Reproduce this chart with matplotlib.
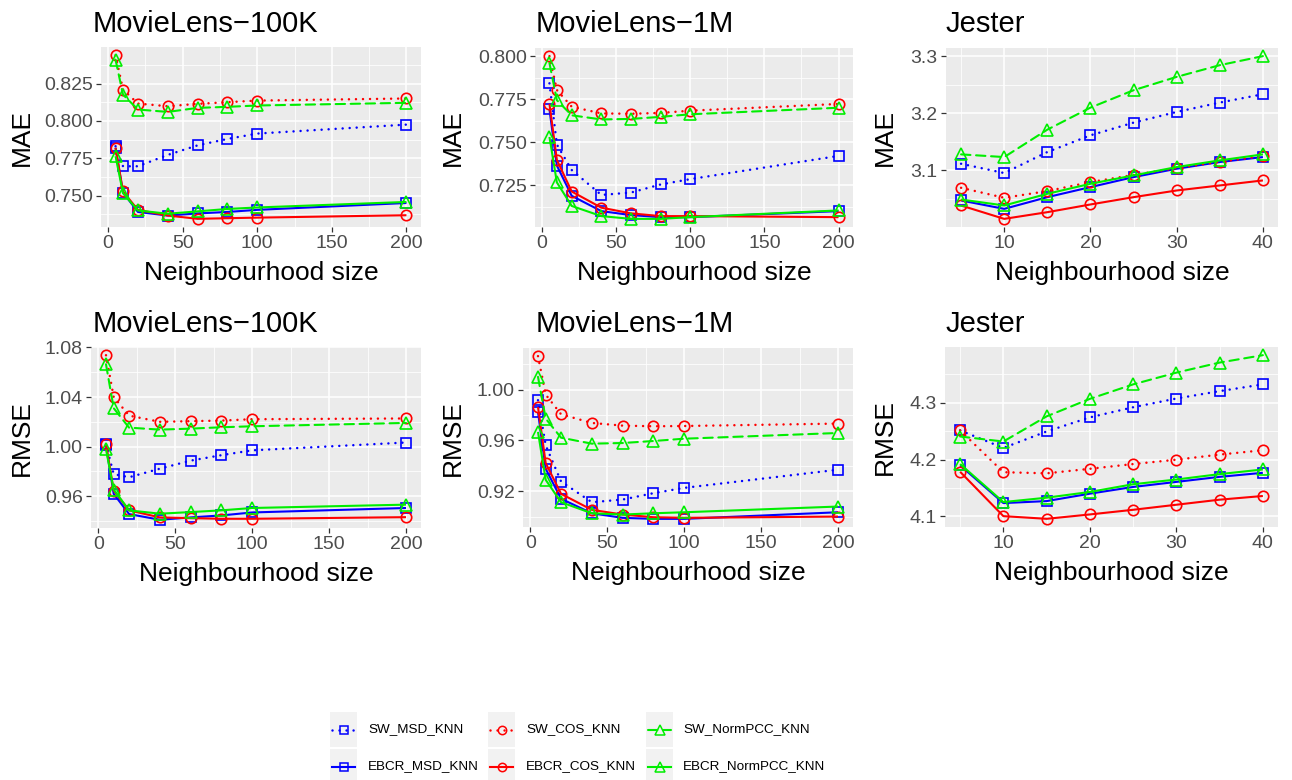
import matplotlib
matplotlib.use("Agg")
import matplotlib.pyplot as plt
from matplotlib.ticker import MultipleLocator, AutoMinorLocator, FormatStrFormatter
from matplotlib.lines import Line2D
from matplotlib.patches import Rectangle

plt.rcParams['font.family'] = ['Liberation Sans', 'DejaVu Sans']

# ---------------- data ----------------
x_ml = [5, 10, 20, 40, 60, 80, 100, 200]
x_jester = [5, 10, 15, 20, 25, 30, 35, 40]

series_names = ["SW_MSD_KNN", "EBCR_MSD_KNN", "SW_COS_KNN",
                "EBCR_COS_KNN", "SW_NormPCC_KNN", "EBCR_NormPCC_KNN"]

# MovieLens-100K MAE
ml100k_mae_sw_msd = [0.783, 0.7696, 0.7696, 0.7772, 0.7836, 0.7879, 0.7915, 0.7975]
ml100k_mae_ebcr_msd = [0.782, 0.752, 0.739, 0.7366, 0.738, 0.739, 0.7404, 0.745]
ml100k_mae_sw_cos = [0.844, 0.821, 0.8116, 0.8098, 0.8114, 0.8125, 0.8136, 0.815]
ml100k_mae_ebcr_cos = [0.782, 0.7527, 0.7404, 0.7366, 0.7344, 0.7348, 0.7352, 0.7368]
ml100k_mae_sw_npcc = [0.841, 0.8176, 0.8076, 0.806, 0.8087, 0.8094, 0.8103, 0.8121]
ml100k_mae_ebcr_npcc = [0.7763, 0.7516, 0.740, 0.7378, 0.7394, 0.741, 0.742, 0.7457]

# MovieLens-1M MAE
ml1m_mae_sw_msd = [0.7842, 0.7486, 0.7338, 0.7193, 0.7207, 0.7254, 0.7285, 0.7420]
ml1m_mae_ebcr_msd = [0.7691, 0.7364, 0.7188, 0.7099, 0.7076, 0.7064, 0.7064, 0.7099]
ml1m_mae_sw_cos = [0.800, 0.7803, 0.7706, 0.7667, 0.7665, 0.7670, 0.7683, 0.7722]
ml1m_mae_ebcr_cos = [0.7723, 0.7397, 0.7213, 0.7119, 0.7086, 0.7070, 0.7070, 0.7064]
ml1m_mae_sw_npcc = [0.796, 0.7744, 0.7656, 0.7632, 0.7635, 0.7647, 0.7662, 0.7700]
ml1m_mae_ebcr_npcc = [0.753, 0.7266, 0.7129, 0.707, 0.7054, 0.7054, 0.7064, 0.7103]

# Jester MAE
jester_mae_sw_msd = [3.1116, 3.0953, 3.1321, 3.1614, 3.1836, 3.2023, 3.2187, 3.2333]
jester_mae_ebcr_msd = [3.0473, 3.0326, 3.0531, 3.0707, 3.0882, 3.1029, 3.1146, 3.1233]
jester_mae_sw_cos = [3.0695, 3.052, 3.0637, 3.0795, 3.092, 3.104, 3.115, 3.125]
jester_mae_ebcr_cos = [3.0385, 3.0151, 3.0268, 3.0403, 3.0531, 3.0648, 3.0736, 3.0824]
jester_mae_sw_npcc = [3.128, 3.1233, 3.1713, 3.2099, 3.2403, 3.2637, 3.2842, 3.300]
jester_mae_ebcr_npcc = [3.049, 3.0385, 3.059, 3.0765, 3.0912, 3.1058, 3.1175, 3.128]

# MovieLens-100K RMSE
ml100k_rmse_sw_msd = [1.0019, 0.9778, 0.9753, 0.9822, 0.9887, 0.9931, 0.997, 1.0033]
ml100k_rmse_ebcr_msd = [1.001, 0.9619, 0.9456, 0.941, 0.9429, 0.9445, 0.9469, 0.9505]
ml100k_rmse_sw_cos = [1.0737, 1.04, 1.025, 1.02, 1.0205, 1.021, 1.0221, 1.0227]
ml100k_rmse_ebcr_cos = [1.002, 0.9646, 0.9486, 0.9429, 0.9423, 0.9418, 0.9418, 0.9431]
ml100k_rmse_sw_npcc = [1.0664, 1.031, 1.0153, 1.0137, 1.0145, 1.0156, 1.0164, 1.0191]
ml100k_rmse_ebcr_npcc = [0.9978, 0.9654, 0.9486, 0.9459, 0.9472, 0.9486, 0.9505, 0.9532]

# MovieLens-1M RMSE
ml1m_rmse_sw_msd = [0.9916, 0.9561, 0.9276, 0.9113, 0.9134, 0.9184, 0.9226, 0.9369]
ml1m_rmse_ebcr_msd = [0.9823, 0.9376, 0.914, 0.9026, 0.899, 0.8982, 0.8982, 0.9034]
ml1m_rmse_sw_cos = [1.0263, 0.996, 0.9805, 0.9737, 0.9716, 0.9711, 0.9713, 0.9732]
ml1m_rmse_ebcr_cos = [0.9863, 0.9421, 0.9179, 0.9053, 0.9016, 0.8995, 0.899, 0.900]
ml1m_rmse_sw_npcc = [1.010, 0.9771, 0.9621, 0.9574, 0.9579, 0.9595, 0.9613, 0.9658]
ml1m_rmse_ebcr_npcc = [0.9666, 0.9289, 0.9113, 0.9026, 0.9016, 0.9026, 0.9034, 0.9079]

# Jester RMSE
jester_rmse_sw_msd = [4.2515, 4.2207, 4.2497, 4.2745, 4.2923, 4.3077, 4.3207, 4.3326]
jester_rmse_ebcr_msd = [4.190, 4.1236, 4.1271, 4.1402, 4.152, 4.1609, 4.1698, 4.1769]
jester_rmse_sw_cos = [4.2515, 4.178, 4.176, 4.184, 4.1923, 4.200, 4.209, 4.2166]
jester_rmse_ebcr_cos = [4.1787, 4.1006, 4.0959, 4.1036, 4.1118, 4.1207, 4.1296, 4.1361]
jester_rmse_sw_npcc = [4.2408, 4.232, 4.2763, 4.3071, 4.3326, 4.3533, 4.371, 4.384]
jester_rmse_ebcr_npcc = [4.1923, 4.1254, 4.1331, 4.1432, 4.1568, 4.1651, 4.1746, 4.1828]

titles = ["MovieLens\u2212100K", "MovieLens\u22121M", "Jester",
          "MovieLens\u2212100K", "MovieLens\u22121M", "Jester"]
ylabels = ["MAE", "MAE", "MAE", "RMSE", "RMSE", "RMSE"]
xlabel = "Neighbourhood size"

panels = [
    (x_ml, [ml100k_mae_sw_msd, ml100k_mae_ebcr_msd, ml100k_mae_sw_cos,
            ml100k_mae_ebcr_cos, ml100k_mae_sw_npcc, ml100k_mae_ebcr_npcc]),
    (x_ml, [ml1m_mae_sw_msd, ml1m_mae_ebcr_msd, ml1m_mae_sw_cos,
            ml1m_mae_ebcr_cos, ml1m_mae_sw_npcc, ml1m_mae_ebcr_npcc]),
    (x_jester, [jester_mae_sw_msd, jester_mae_ebcr_msd, jester_mae_sw_cos,
                jester_mae_ebcr_cos, jester_mae_sw_npcc, jester_mae_ebcr_npcc]),
    (x_ml, [ml100k_rmse_sw_msd, ml100k_rmse_ebcr_msd, ml100k_rmse_sw_cos,
            ml100k_rmse_ebcr_cos, ml100k_rmse_sw_npcc, ml100k_rmse_ebcr_npcc]),
    (x_ml, [ml1m_rmse_sw_msd, ml1m_rmse_ebcr_msd, ml1m_rmse_sw_cos,
            ml1m_rmse_ebcr_cos, ml1m_rmse_sw_npcc, ml1m_rmse_ebcr_npcc]),
    (x_jester, [jester_rmse_sw_msd, jester_rmse_ebcr_msd, jester_rmse_sw_cos,
                jester_rmse_ebcr_cos, jester_rmse_sw_npcc, jester_rmse_ebcr_npcc]),
]

# ---------------- styles ----------------
BLUE, RED, GREEN = "#0000FF", "#FF0000", "#00EE00"
DOT = (0, (0.01, 2.8))
DASH = (0, (4.5, 2.7))
styles = [
    dict(color=BLUE, ls=DOT, lw=1.8, marker="s", ms=7),
    dict(color=BLUE, ls="-", lw=1.5, marker="s", ms=7),
    dict(color=RED, ls=DOT, lw=1.8, marker="o", ms=7.5),
    dict(color=RED, ls="-", lw=1.5, marker="o", ms=7.5),
    dict(color=GREEN, ls=DASH, lw=1.5, marker="^", ms=8.5),
    dict(color=GREEN, ls="-", lw=1.5, marker="^", ms=8.5),
]

y_major = [0.025, 0.025, 0.1, 0.04, 0.04, 0.1]
y_fmt = ["%.3f", "%.3f", "%.1f", "%.2f", "%.2f", "%.1f"]
x_major = [50, 50, 10, 50, 50, 10]

W, H = 1292, 780
# panel boxes in pixels: left, right, top, bottom
boxes = [(101, 421, 47, 227), (535, 853, 48, 227), (946, 1278, 48, 227),
         (91, 421, 347, 528), (523, 853, 348, 527), (945, 1278, 347, 527)]
title_pos = [(93, 32), (536, 32), (946, 32), (93, 332), (536, 332), (946, 332)]
ylabel_x = [34, 465, 897, 34, 465, 897]

fig = plt.figure(figsize=(W / 100, H / 100), dpi=100)
fig.patch.set_facecolor("white")

for i, (xs, ys_list) in enumerate(panels):
    l, r, t, b = boxes[i]
    ax = fig.add_axes([l / W, 1 - b / H, (r - l) / W, (b - t) / H])
    ax.set_facecolor("#EBEBEB")
    for s in ax.spines.values():
        s.set_visible(False)
    for ys, st in zip(ys_list, styles):
        ax.plot(xs, ys, color=st["color"], linestyle=st["ls"], linewidth=st["lw"],
                marker=st["marker"], markersize=st["ms"], markerfacecolor="none",
                markeredgewidth=1.2, markeredgecolor=st["color"],
                dash_capstyle="round", solid_capstyle="butt", zorder=3)
    ax.margins(x=0.05, y=0.05)
    ax.xaxis.set_major_locator(MultipleLocator(x_major[i]))
    ax.xaxis.set_minor_locator(AutoMinorLocator(2))
    ax.yaxis.set_major_locator(MultipleLocator(y_major[i]))
    ax.yaxis.set_minor_locator(AutoMinorLocator(2))
    ax.yaxis.set_major_formatter(FormatStrFormatter(y_fmt[i]))
    ax.grid(which="major", color="white", linewidth=1.1, zorder=0)
    ax.grid(which="minor", color="white", linewidth=0.55, zorder=0)
    ax.set_axisbelow(True)
    ax.tick_params(which="major", length=3.5, width=0.9, color="#333333",
                   labelsize=14, labelcolor="#4D4D4D", pad=2.5)
    ax.tick_params(which="minor", length=0)
    ax.set_xlabel(xlabel, fontsize=19, color="black")
    ax.set_ylabel(ylabels[i], fontsize=19, color="black")
    ax.xaxis.set_label_coords(0.5, -34 / (b - t))
    ax.yaxis.set_label_coords((ylabel_x[i] - l) / (r - l), 0.5)
    tx, ty = title_pos[i]
    fig.text(tx / W, 1 - ty / H, titles[i], fontsize=21, color="black",
             ha="left", va="baseline")

# ---------------- legend (manual, ggplot style) ----------------
col_key_x = [330, 488, 646]
col_text_x = [368, 526, 683]
row_y = [712, 749]
key_w, key_h = 27, 35
for j, name in enumerate(series_names):
    c, rrow = j // 2, j % 2
    st = styles[j]
    kx, ky = col_key_x[c], row_y[rrow]
    fig.add_artist(Rectangle((kx / W, 1 - (ky + key_h) / H), key_w / W, key_h / H,
                             transform=fig.transFigure, facecolor="#F2F2F2",
                             edgecolor="none", zorder=1))
    cy = 1 - (ky + key_h / 2) / H
    fig.add_artist(Line2D([(kx + 2) / W, (kx + key_w - 2) / W], [cy, cy],
                          transform=fig.transFigure, color=st["color"],
                          linestyle=st["ls"], linewidth=st["lw"],
                          dash_capstyle="round", zorder=2))
    fig.add_artist(Line2D([(kx + key_w / 2) / W], [cy], transform=fig.transFigure,
                          color=st["color"], marker=st["marker"],
                          markersize=st["ms"] * 0.8, markerfacecolor="none",
                          markeredgewidth=1.1, linestyle="none", zorder=3))
    fig.text(col_text_x[c] / W, cy, name, fontsize=9.7, color="black",
             ha="left", va="center")

fig.savefig("out.png", dpi=100)
